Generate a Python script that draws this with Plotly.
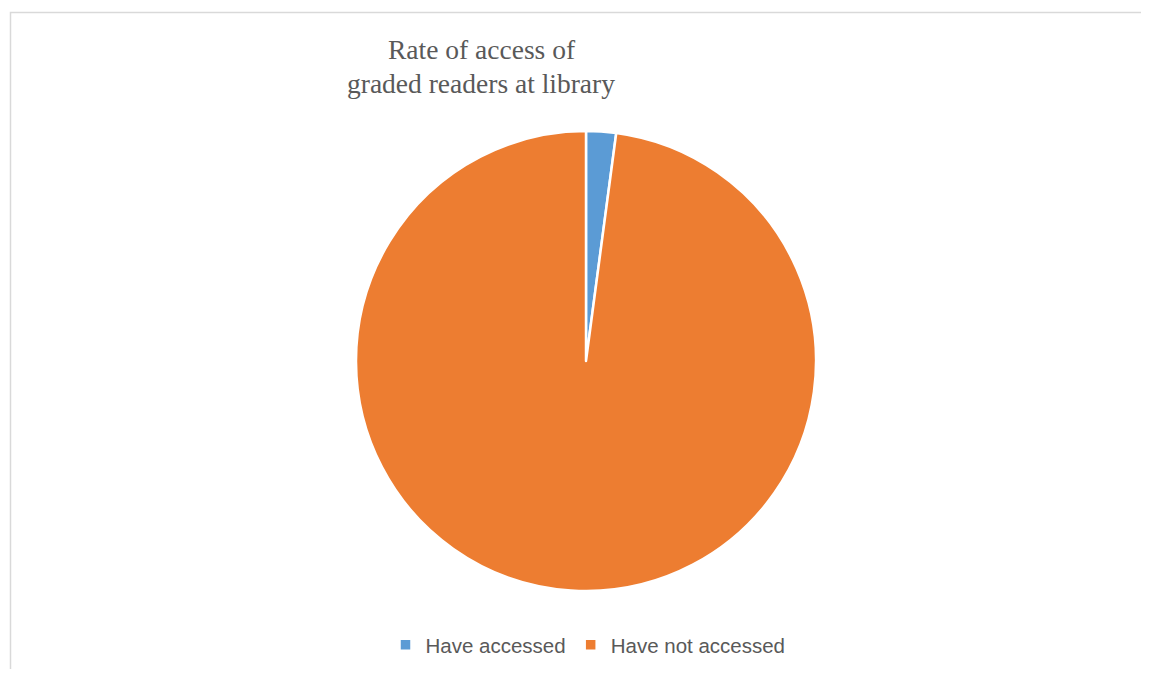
import plotly.graph_objects as go

labels = ["Have accessed", "Have not accessed"]
values = [2.1, 97.9]
colors = ["#5B9BD5", "#ED7D31"]
title_lines = ["Rate of access of", "graded readers at library"]

# page body has an 8px margin; size the figure so the page fits the window
OFF = 8
W, H = 1149 - 2 * OFF, 677 - 2 * OFF


def px(x):
    return (x - OFF) / W


def py(y):
    return (H - (y - OFF)) / H


fig = go.Figure(go.Pie(
    labels=labels,
    values=values,
    marker=dict(colors=colors, line=dict(color="white", width=2.5)),
    textinfo="none",
    sort=False,
    direction="clockwise",
    rotation=0,
    hoverinfo="label+percent",
    domain=dict(x=[px(356), px(816)], y=[py(591), py(131)]),
))

title_font = dict(family="Liberation Serif, Times New Roman, serif", size=27.5, color="#595959")
annotations = [
    dict(text=title_lines[0], x=px(482), y=py(50), xref="paper", yref="paper",
         xanchor="center", yanchor="middle", showarrow=False, font=title_font),
    dict(text=title_lines[1], x=px(481), y=py(83), xref="paper", yref="paper",
         xanchor="center", yanchor="middle", showarrow=False, font=title_font),
]

fig.update_layout(
    width=W, height=H,
    margin=dict(l=0, r=0, t=0, b=0),
    paper_bgcolor="white",
    plot_bgcolor="white",
    showlegend=True,
    legend=dict(
        orientation="h",
        x=px(588), xanchor="center",
        y=py(645), yanchor="middle",
        font=dict(family="Liberation Sans, Arial, sans-serif", size=20.5, color="#595959"),
        itemwidth=30,
    ),
    annotations=annotations,
    shapes=[dict(
        type="rect", xref="paper", yref="paper",
        x0=px(10.5), x1=1.05, y0=-0.05, y1=py(12.5),
        line=dict(color="#D9D9D9", width=1.5),
        fillcolor="rgba(0,0,0,0)",
    )],
)

fig.write_html("out.html")
